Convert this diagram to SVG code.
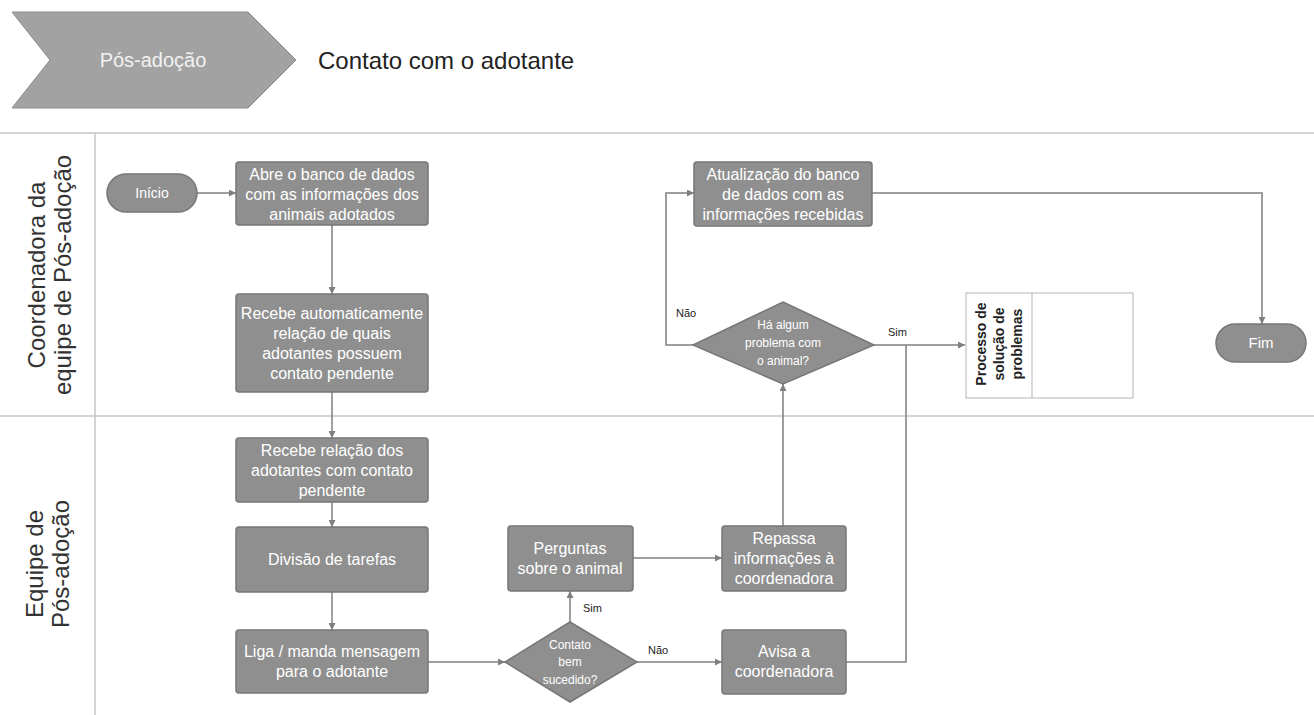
<svg xmlns="http://www.w3.org/2000/svg" width="1314" height="715" viewBox="0 0 1314 715">
<style>
.node{fill:#8f8f8f;stroke:#777;stroke-width:1.5}
.t{font-family:"Liberation Sans",Arial,sans-serif;font-size:16px;fill:#fff;text-anchor:middle}
.ts{font-family:"Liberation Sans",Arial,sans-serif;font-size:12px;fill:#fff;text-anchor:middle}
.lbl{font-family:"Liberation Sans",Arial,sans-serif;font-size:11px;fill:#222}
.lane{font-family:"Liberation Sans",Arial,sans-serif;font-size:24px;fill:#333;text-anchor:middle}
.c{fill:none;stroke:#7f7f7f;stroke-width:1.5;marker-end:url(#ah)}
.cn{fill:none;stroke:#7f7f7f;stroke-width:1.5}
.grid{stroke:#c6c6c6;stroke-width:1.5}
</style>
<defs>
<marker id="ah" viewBox="0 0 10 10" refX="10" refY="5" markerWidth="7" markerHeight="7" orient="auto" markerUnits="userSpaceOnUse">
<path d="M0,0 L10,5 L0,10 z" fill="#7f7f7f"/>
</marker>
</defs>
<rect width="1314" height="715" fill="#fff"/>
<g id="header">
<polygon points="12,12 248,12 296,60 248,108 12,108 50,60" fill="#a2a2a2" stroke="#8a8a8a" stroke-width="1"/>
<text x="153" y="67" font-family="Liberation Sans,Arial,sans-serif" font-size="20" fill="#f2f2f2" text-anchor="middle">Pós-adoção</text>
<text x="318" y="69" font-family="Liberation Sans,Arial,sans-serif" font-size="24" fill="#222">Contato com o adotante</text>
</g>
<g id="lanes">
<line class="grid" x1="0" y1="133" x2="1314" y2="133"/>
<line class="grid" x1="0" y1="416" x2="1314" y2="416"/>
<line class="grid" x1="95" y1="133" x2="95" y2="715"/>
<text class="lane" transform="translate(45,275) rotate(-90)">Coordenadora da</text>
<text class="lane" transform="translate(71,275) rotate(-90)">equipe de Pós-adoção</text>
<text class="lane" transform="translate(43,564) rotate(-90)">Equipe de</text>
<text class="lane" transform="translate(69,564) rotate(-90)">Pós-adoção</text>
</g>
<g id="connectors">
<path class="c" d="M197,193 H236"/>
<path class="c" d="M332,225 V294"/>
<path class="c" d="M332,392 V438"/>
<path class="c" d="M332,502 V527"/>
<path class="c" d="M332,592 V630"/>
<path class="c" d="M428,662 H505"/>
<path class="c" d="M570,622 V591"/>
<path class="c" d="M637,662 H722"/>
<path class="c" d="M633,558 H722"/>
<path class="c" d="M783,526 V384"/>
<path class="cn" d="M846,662 H906 V345"/>
<path class="c" d="M874,345 H965"/>
<path class="c" d="M693,345 H666 V193 H694"/>
<path class="c" d="M872,193 H1262 V324"/>
<text class="lbl" x="583" y="612">Sim</text>
<text class="lbl" x="648" y="654">Não</text>
<text class="lbl" x="888" y="336">Sim</text>
<text class="lbl" x="676" y="317">Não</text>
</g>
<g id="inicio">
<rect class="node" x="107" y="174" width="90" height="38" rx="19"/>
<text class="ts" x="152" y="198" style="font-size:14px">Início</text>
</g>
<g id="abre">
<rect class="node" x="236" y="162" width="192" height="63" rx="3"/>
<text class="t" x="332" y="180">Abre o banco de dados</text>
<text class="t" x="332" y="200">com as informações dos</text>
<text class="t" x="332" y="220">animais adotados</text>
</g>
<g id="recebe-auto">
<rect class="node" x="236" y="294" width="192" height="98" rx="3"/>
<text class="t" x="332" y="319">Recebe automaticamente</text>
<text class="t" x="332" y="339">relação de quais</text>
<text class="t" x="332" y="359">adotantes possuem</text>
<text class="t" x="332" y="379">contato pendente</text>
</g>
<g id="recebe-relacao">
<rect class="node" x="236" y="438" width="192" height="64" rx="3"/>
<text class="t" x="332" y="456">Recebe relação dos</text>
<text class="t" x="332" y="476">adotantes com contato</text>
<text class="t" x="332" y="496">pendente</text>
</g>
<g id="divisao">
<rect class="node" x="236" y="527" width="192" height="65" rx="3"/>
<text class="t" x="332" y="565">Divisão de tarefas</text>
</g>
<g id="liga">
<rect class="node" x="236" y="630" width="192" height="63" rx="3"/>
<text class="t" x="332" y="657">Liga / manda mensagem</text>
<text class="t" x="332" y="677">para o adotante</text>
</g>
<g id="contato">
<polygon class="node" points="570,622 637,662 570,702 505,662"/>
<text class="ts" x="570" y="649">Contato</text>
<text class="ts" x="570" y="666">bem</text>
<text class="ts" x="570" y="684">sucedido?</text>
</g>
<g id="perguntas">
<rect class="node" x="508" y="526" width="125" height="65" rx="3"/>
<text class="t" x="570" y="554">Perguntas</text>
<text class="t" x="570" y="574">sobre o animal</text>
</g>
<g id="repassa">
<rect class="node" x="722" y="526" width="124" height="65" rx="3"/>
<text class="t" x="784" y="544">Repassa</text>
<text class="t" x="784" y="564">informações à</text>
<text class="t" x="784" y="584">coordenadora</text>
</g>
<g id="avisa">
<rect class="node" x="722" y="630" width="124" height="64" rx="3"/>
<text class="t" x="784" y="657">Avisa a</text>
<text class="t" x="784" y="677">coordenadora</text>
</g>
<g id="ha-algum">
<polygon class="node" points="783,302 874,345 783,384 693,345"/>
<text class="ts" x="783" y="329">Há algum</text>
<text class="ts" x="783" y="347">problema com</text>
<text class="ts" x="783" y="365">o animal?</text>
</g>
<g id="atualizacao">
<rect class="node" x="694" y="162" width="178" height="64" rx="3"/>
<text class="t" x="783" y="180">Atualização do banco</text>
<text class="t" x="783" y="200">de dados com as</text>
<text class="t" x="783" y="220">informações recebidas</text>
</g>
<g id="processo">
<rect x="966" y="293" width="167" height="105" fill="#fff" stroke="#b5b5b5" stroke-width="1"/>
<line x1="1032" y1="293" x2="1032" y2="398" stroke="#b5b5b5" stroke-width="1"/>
<g font-family="Liberation Sans,Arial,sans-serif" font-size="14" font-weight="bold" fill="#222" text-anchor="middle">
<text transform="translate(986,344) rotate(-90)">Processo de</text>
<text transform="translate(1004,344) rotate(-90)">solução de</text>
<text transform="translate(1022,344) rotate(-90)">problemas</text>
</g>
</g>
<g id="fim">
<rect class="node" x="1216" y="324" width="90" height="38" rx="19"/>
<text class="ts" x="1261" y="348" style="font-size:15px">Fim</text>
</g>
</svg>
